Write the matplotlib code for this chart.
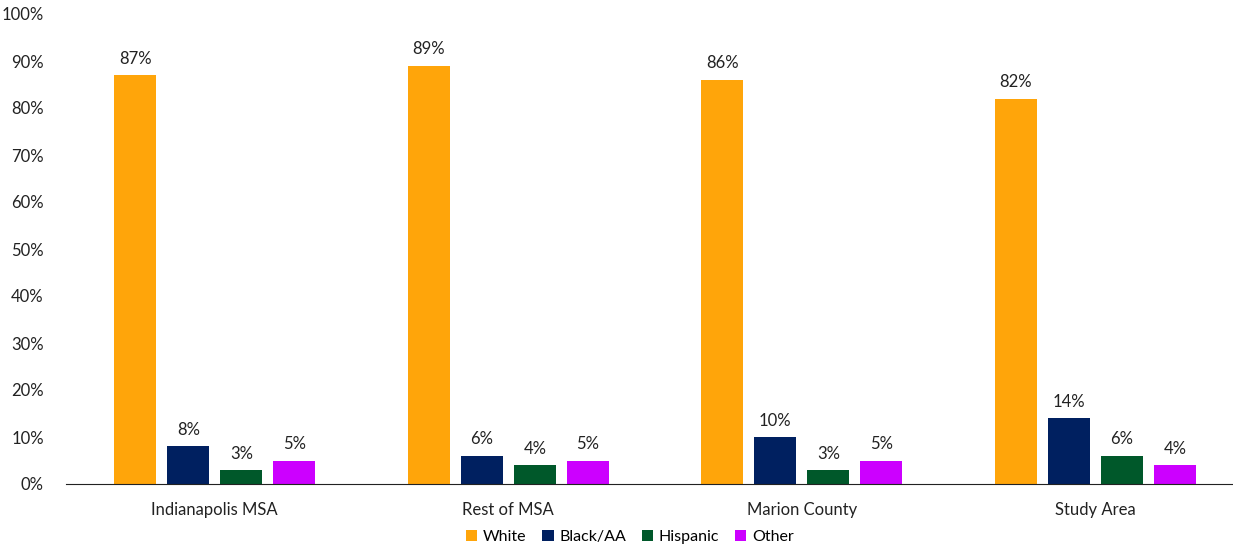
import numpy as np
import matplotlib.pyplot as plt
from matplotlib.ticker import PercentFormatter

plt.rcParams['font.family'] = ['Lato', 'DejaVu Sans']

# Share of population by race/ethnicity, per geography
areas = ["Indianapolis MSA", "Rest of MSA", "Marion County", "Study Area"]
groups = ["White", "Black/AA", "Hispanic", "Other"]
white = [87, 89, 86, 82]
black = [8, 6, 10, 14]
hispanic = [3, 4, 3, 6]
other = [5, 5, 5, 4]
colors = ["#FFA50A", "#002060", "#00582A", "#CC00FF"]

series = [white, black, hispanic, other]

fig = plt.figure(figsize=(12.33, 5.47), dpi=100)
ax = fig.add_axes([66 / 1233, 63 / 547, (1233 - 66) / 1233, 470 / 547])

x = np.arange(len(areas))
width = 0.143
step = 0.1806
for i, (name, vals, c) in enumerate(zip(groups, series, colors)):
    pos = x + (i - 1.5) * step
    bars = ax.bar(pos, vals, width, color=c, label=name)
    for b, v in zip(bars, vals):
        ax.annotate(f"{v}%", (b.get_x() + b.get_width() / 2, v),
                    xytext=(0, 6), textcoords="offset points",
                    ha="center", va="bottom", fontsize=12, color="#222222")

ax.set_xlim(-0.507, -0.507 + (1233 - 66) / 293.5)
ax.set_ylim(0, 100)
ax.set_yticks(range(0, 101, 10))
ax.yaxis.set_major_formatter(PercentFormatter(decimals=0))
ax.set_xticks(x)
ax.set_xticklabels(areas)
ax.tick_params(axis="both", length=0, labelsize=12, colors="#222222")
ax.tick_params(axis="x", pad=13)
ax.tick_params(axis="y", pad=16)
for side in ["top", "right", "left"]:
    ax.spines[side].set_visible(False)
ax.spines["bottom"].set_color("#222222")

fig.legend(loc="center", bbox_to_anchor=(630 / 1233, 10 / 547), ncol=4,
           frameon=False, fontsize=11.5, handlelength=0.7, handleheight=0.7,
           handletextpad=0.35, columnspacing=1.0)

fig.savefig("out.png", dpi=100)
